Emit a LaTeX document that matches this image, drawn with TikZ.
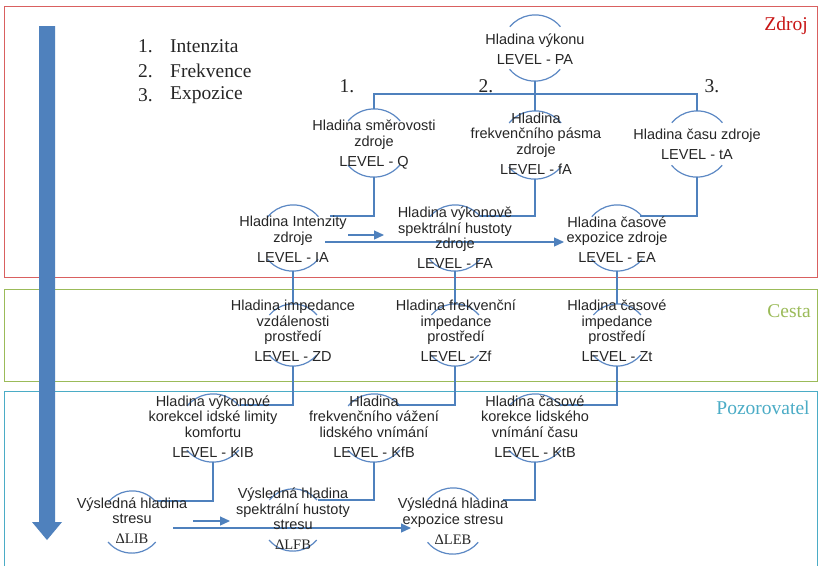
\documentclass[tikz,border=0pt]{standalone}
\usepackage{fontspec}
\setmainfont{Liberation Serif}
\setsansfont{Liberation Sans}
\usetikzlibrary{arrows.meta,calc}
\definecolor{boxred}{RGB}{217,96,96}
\definecolor{txtred}{RGB}{200,20,20}
\definecolor{boxgreen}{RGB}{155,187,89}
\definecolor{boxaqua}{RGB}{75,172,198}
\definecolor{linkblue}{RGB}{79,129,189}
\definecolor{arcblue}{RGB}{92,136,196}
\begin{document}
\begin{tikzpicture}[x=1pt,y=-1pt,
  conn/.style={linkblue,line width=1.2pt},
  flow/.style={conn,-{Triangle[length=10pt,width=9pt]}},
  lvl/.style={circle,draw=none,inner sep=0pt,minimum size=#1},
  arcs/.style={arcblue,line width=1.2pt},
  txt/.style={align=center,inner sep=0pt,font=\sffamily\fontsize{14.5}{15.5}\selectfont,text=black!85},
  serif/.style={inner sep=0pt,font=\rmfamily\fontsize{19.5}{24}\selectfont,text=black!85},
]
\useasboundingbox (0,0) rectangle (819,566);
\fill[white] (0,0) rectangle (819,566);

% three zones
\draw[boxred,line width=1pt] (4,6) rectangle (817,277);
\draw[boxgreen,line width=1pt] (4,289) rectangle (817,381);
\draw[boxaqua,line width=1pt] (4,566) -- (4,391) -- (817,391) -- (817,566);
\node[serif,text=txtred] (lblZ) at (786,26) {Zdroj};
\node[serif,text=boxgreen] (lblC) at (789,311) {Cesta};
\node[serif,text=boxaqua] (lblP) at (763,408) {Pozorovatel};

% big downward arrow
\fill[linkblue] (39,26) -- (55,26) -- (55,522) -- (62,522) -- (47,540) -- (32,522) -- (39,522) -- cycle;

% legend
\node[serif,anchor=west] (n1) at (138,46) {1.};
\node[serif,anchor=west] (t1) at (170,46) {Intenzita};
\node[serif,anchor=west] (n2) at (138,71) {2.};
\node[serif,anchor=west] (t2) at (170,71) {Frekvence};
\node[serif,anchor=west] (n3) at (138,95) {3.};
\node[serif,anchor=west] (t3) at (170,95) {Expozice};

\node[serif] (b1) at (347,86) {1.};
\node[serif] (b2) at (486,86) {2.};
\node[serif] (b3) at (712,86) {3.};

% level circles
\foreach \n/\x/\y/\r in {PA/535/48/33, Q/374/143/34, fA/535/145/34, tA/697/144/33,
    IA/293/238/33, FA/455/238/33, EA/617/238/33,
    ZD/293/335/31, Zf/455/335/31, Zt/617/335/31,
    KIB/213/428/34, KfB/374/428/34, KtB/535/428/34,
    LIB/132/522/31, LFB/293/520/31, LEB/453/521/33}{
  \node[lvl=2*\r pt] (\n) at (\x,\y) {};
  \draw[arcs] (\n.40) arc[start angle=40,end angle=140,radius=\r pt];
  \draw[arcs] (\n.220) arc[start angle=220,end angle=320,radius=\r pt];
}

% connectors
\coordinate (bus) at (535,94);
\draw[conn] (PA.south) -- (bus);
\draw[conn] (Q.north) |- (bus) -| (tA.north);
\draw[conn] (bus) -- (fA.north);

\coordinate (IAin) at (330,216);
\coordinate (FAin) at (480,216);
\coordinate (EAin) at (640,216);
\draw[conn] (Q.south) |- (IAin);
\draw[conn] (fA.south) |- (FAin);
\draw[conn] (tA.south) |- (EAin);

\coordinate (s1) at (348,235); \coordinate (e1) at (384,235);
\coordinate (s2) at (325,242); \coordinate (e2) at (564,242);
\draw[flow] (s1) -- (e1);
\draw[flow] (s2) -- (e2);

\draw[conn] (IA.south) -- (ZD.north);
\draw[conn] (FA.south) -- (Zf.north);
\draw[conn] (EA.south) -- (Zt.north);

\coordinate (KIBin) at (240,405);
\coordinate (KfBin) at (397,405);
\coordinate (KtBin) at (560,405);
\draw[conn] (ZD.south) |- (KIBin);
\draw[conn] (Zf.south) |- (KfBin);
\draw[conn] (Zt.south) |- (KtBin);

\coordinate (LIBin) at (157,501);
\coordinate (LFBin) at (318,500);
\coordinate (LEBin) at (503,500);
\draw[conn] (KIB.south) |- (LIBin);
\draw[conn] (KfB.south) |- (LFBin);
\draw[conn] (KtB.south) |- (LEBin);

\coordinate (s3) at (193,521); \coordinate (e3) at (230,521);
\coordinate (s4) at (173,528); \coordinate (e4) at (411,528);
\draw[flow] (s3) -- (e3);
\draw[flow] (s4) -- (e4);

% texts
\node[txt] (PAt) at (535,49.5) {Hladina výkonu\\[4.5pt]LEVEL - PA};
\node[txt] (Qt) at (374,144.5) {Hladina směrovosti\\zdroje\\[4.5pt]LEVEL - Q};
\node[txt] (fAt) at (536,143.5) {Hladina\\frekvenčního pásma\\zdroje\\[4.5pt]LEVEL - fA};
\node[txt] (tAt) at (697,144) {Hladina času zdroje\\[4.5pt]LEVEL - tA};
\node[txt] (IAt) at (293,239) {Hladina Intenzity\\zdroje\\[4.5pt]LEVEL - IA};
\node[txt] (FAt) at (455,238) {Hladina výkonově\\spektrální hustoty\\zdroje\\[4.5pt]LEVEL - FA};
\node[txt] (EAt) at (617,239.5) {Hladina časové\\expozice zdroje\\[4.5pt]LEVEL - EA};
\node[txt] (ZDt) at (293,331) {Hladina impedance\\vzdálenosti\\prostředí\\[4.5pt]LEVEL - ZD};
\node[txt] (Zft) at (456,331) {Hladina frekvenční\\impedance\\prostředí\\[4.5pt]LEVEL - Zf};
\node[txt] (Ztt) at (617,331) {Hladina časové\\impedance\\prostředí\\[4.5pt]LEVEL - Zt};
\node[txt] (KIBt) at (213,426.5) {Hladina výkonové\\korekcel idské limity\\komfortu\\[4.5pt]LEVEL - KIB};
\node[txt] (KfBt) at (374,426.5) {Hladina\\frekvenčního vážení\\lidského vnímání\\[4.5pt]LEVEL - KfB};
\node[txt] (KtBt) at (535,426.5) {Hladina časové\\korekce lidského\\vnímání času\\[4.5pt]LEVEL - KtB};
\node[txt] (LIBt) at (132,520.5) {Výsledná hladina\\stresu\\[4.5pt]{\rmfamily ΔLIB}};
\node[txt] (LFBt) at (293,519) {Výsledná hladina\\spektrální hustoty\\stresu\\[4.5pt]{\rmfamily ΔLFB}};
\node[txt] (LEBt) at (453,521) {Výsledná hladina\\expozice stresu\\[4.5pt]{\rmfamily ΔLEB}};
\end{tikzpicture}
\end{document}
